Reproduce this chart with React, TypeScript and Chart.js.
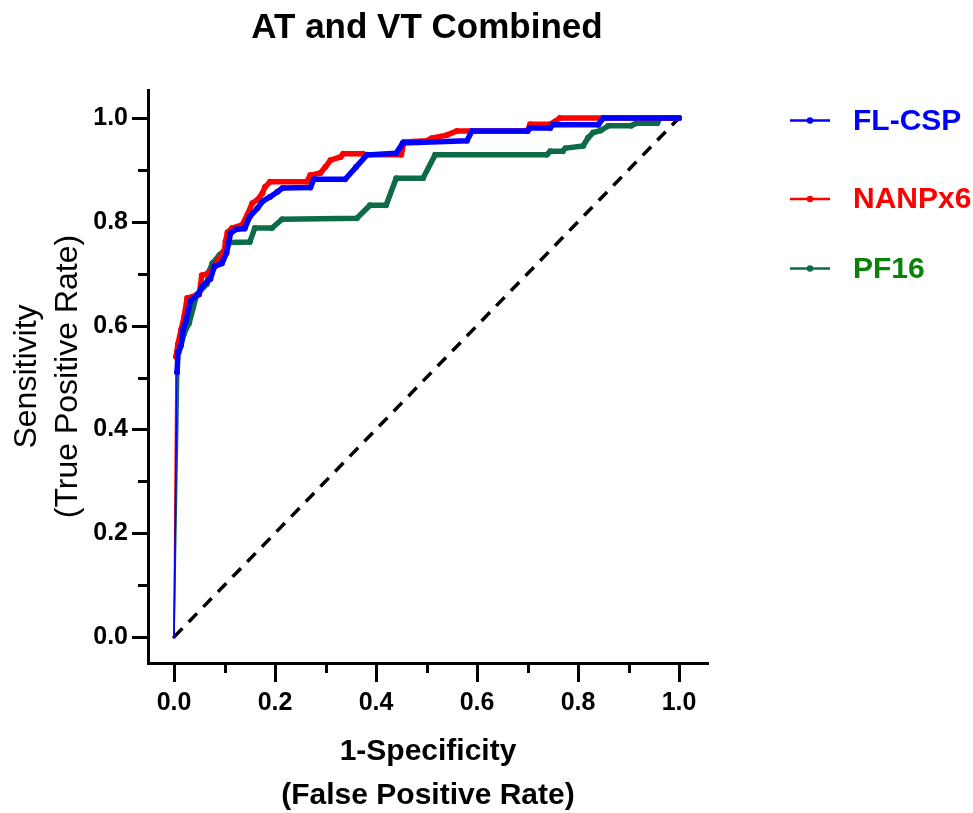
import React, { useEffect, useRef } from "react";
import { Chart, registerables } from "chart.js";

Chart.register(...registerables);

const chartTitle = "AT and VT Combined";
const seriesNames = ["FL-CSP", "NANPx6", "PF16"];

const flcspFpr = [0, 0.006, 0.008, 0.014, 0.018, 0.024, 0.033, 0.048, 0.056, 0.072, 0.08, 0.095, 0.104, 0.112, 0.122, 0.14, 0.15, 0.165, 0.176, 0.19, 0.205, 0.215, 0.27, 0.277, 0.339, 0.36, 0.382, 0.44, 0.453, 0.58, 0.59, 0.7, 0.705, 0.745, 0.75, 0.84, 0.85, 1.0];
const flcspTpr = [0, 0.51, 0.548, 0.562, 0.592, 0.61, 0.648, 0.66, 0.676, 0.69, 0.714, 0.72, 0.74, 0.778, 0.785, 0.787, 0.81, 0.826, 0.84, 0.848, 0.858, 0.865, 0.866, 0.882, 0.882, 0.905, 0.929, 0.932, 0.952, 0.956, 0.975, 0.975, 0.981, 0.981, 0.987, 0.987, 1.0, 1.0];

const nanpFpr = [0, 0.004, 0.008, 0.014, 0.02, 0.026, 0.05, 0.055, 0.066, 0.078, 0.09, 0.1, 0.102, 0.106, 0.115, 0.135, 0.145, 0.155, 0.165, 0.175, 0.18, 0.19, 0.263, 0.27, 0.29, 0.3, 0.31, 0.33, 0.335, 0.374, 0.376, 0.45, 0.455, 0.5, 0.51, 0.54, 0.56, 0.7, 0.705, 0.745, 0.764, 1.0];
const nanpTpr = [0, 0.54, 0.565, 0.592, 0.617, 0.653, 0.66, 0.697, 0.7, 0.71, 0.73, 0.745, 0.762, 0.78, 0.788, 0.794, 0.813, 0.836, 0.842, 0.855, 0.867, 0.877, 0.877, 0.89, 0.894, 0.906, 0.919, 0.925, 0.931, 0.931, 0.929, 0.929, 0.954, 0.956, 0.961, 0.967, 0.975, 0.975, 0.988, 0.988, 1.0, 1.0];

const pf16Fpr = [0, 0.01, 0.02, 0.03, 0.038, 0.045, 0.065, 0.07, 0.076, 0.09, 0.1, 0.11, 0.15, 0.16, 0.194, 0.214, 0.362, 0.388, 0.42, 0.44, 0.493, 0.517, 0.738, 0.745, 0.77, 0.775, 0.81, 0.82, 0.83, 0.845, 0.86, 0.905, 0.915, 0.957, 0.962, 1.0];
const pf16Tpr = [0, 0.55, 0.585, 0.605, 0.635, 0.66, 0.68, 0.705, 0.72, 0.736, 0.745, 0.76, 0.761, 0.788, 0.788, 0.805, 0.807, 0.832, 0.832, 0.884, 0.884, 0.929, 0.929, 0.936, 0.936, 0.942, 0.946, 0.962, 0.972, 0.976, 0.985, 0.985, 0.99, 0.99, 1.0, 1.0];

const refFpr = [0, 1];
const refTpr = [0, 1];

const xTickValues = [0, 0.1, 0.2, 0.3, 0.4, 0.5, 0.6, 0.7, 0.8, 0.9, 1.0];
const xTickLabels = ["0.0", "", "0.2", "", "0.4", "", "0.6", "", "0.8", "", "1.0"];
const yTickValues = [0, 0.1, 0.2, 0.3, 0.4, 0.5, 0.6, 0.7, 0.8, 0.9, 1.0];
const yTickLabels = ["0.0", "", "0.2", "", "0.4", "", "0.6", "", "0.8", "", "1.0"];

const xAxisTitle = ["1-Specificity", "(False Positive Rate)"];
const yAxisTitle = ["Sensitivity", "(True Positive Rate)"];

const lineColors = ["#0000FF", "#FF0000", "#0E6B47"];
const textColors = ["#0000FF", "#FF0000", "#0A820A"];

const FONT = "'Liberation Sans', Arial, Helvetica, sans-serif";

const toPoints = (xs: number[], ys: number[]) => xs.map((x, i) => ({ x, y: ys[i] }));

const decorPlugin = {
  id: "decor",
  afterDraw(chart: any) {
    const ctx = chart.ctx;
    const xs = chart.scales.x;
    const ys = chart.scales.y;
    const area = chart.chartArea;
    ctx.save();
    ctx.strokeStyle = "#000";
    ctx.lineWidth = 3;
    ctx.lineCap = "butt";
    xTickValues.forEach((v, i) => {
      const px = Math.round(xs.getPixelForValue(v)) + 0.5;
      const len = xTickLabels[i] ? 19 : 10;
      ctx.beginPath();
      ctx.moveTo(px, area.bottom);
      ctx.lineTo(px, area.bottom + len);
      ctx.stroke();
    });
    yTickValues.forEach((v, i) => {
      const py = Math.round(ys.getPixelForValue(v)) + 0.5;
      const len = yTickLabels[i] ? 16 : 10;
      ctx.beginPath();
      ctx.moveTo(area.left, py);
      ctx.lineTo(area.left - len, py);
      ctx.stroke();
    });

    // title
    ctx.fillStyle = "#000";
    ctx.font = `bold 35px ${FONT}`;
    ctx.textAlign = "center";
    ctx.textBaseline = "middle";
    ctx.fillText(chartTitle, (area.left + area.right) / 2 - 1, 28);

    // legend
    const legendY = [120.5, 199, 268.5];
    seriesNames.forEach((name, i) => {
      const y = legendY[i];
      ctx.strokeStyle = lineColors[i];
      ctx.lineWidth = 2.5;
      ctx.beginPath();
      ctx.moveTo(790, y);
      ctx.lineTo(830, y);
      ctx.stroke();
      ctx.fillStyle = lineColors[i];
      ctx.beginPath();
      ctx.arc(810, y, 3.2, 0, Math.PI * 2);
      ctx.fill();
      ctx.fillStyle = textColors[i];
      ctx.font = `bold 30px ${FONT}`;
      ctx.textAlign = "left";
      ctx.textBaseline = "middle";
      ctx.fillText(name, 853, y + 1);
    });
    ctx.restore();
  },
};

const seriesDataset = (label: string, xs: number[], ys: number[], color: string) => ({
  label,
  data: toPoints(xs, ys),
  showLine: true,
  borderColor: color,
  backgroundColor: color,
  borderWidth: 5.5,
  borderJoinStyle: "round",
  borderCapStyle: "round",
  pointRadius: (c: any) => (c.dataIndex === 0 ? 1.5 : 3),
  pointBorderWidth: 0,
  pointBackgroundColor: color,
  segment: {
    borderWidth: (c: any) => (c.p0DataIndex === 0 ? 1.6 : 5.5),
  },
  tension: 0,
});

export default function App() {
  const ref = useRef<HTMLCanvasElement>(null);
  useEffect(() => {
    if (!ref.current) return;
    const chart = new Chart(ref.current, {
      type: "scatter",
      data: {
        datasets: [
          seriesDataset(seriesNames[0], flcspFpr, flcspTpr, lineColors[0]),
          seriesDataset(seriesNames[1], nanpFpr, nanpTpr, lineColors[1]),
          seriesDataset(seriesNames[2], pf16Fpr, pf16Tpr, lineColors[2]),
          {
            label: "Reference",
            data: toPoints(refFpr, refTpr),
            showLine: true,
            borderColor: "#000",
            borderWidth: 3.5,
            borderDash: [12, 9],
            pointRadius: 0,
          },
        ] as any,
      },
      options: {
        responsive: false,
        devicePixelRatio: 1,
        animation: false,
        layout: { padding: { left: 0, right: 265, top: 90, bottom: 0 } },
        plugins: {
          legend: { display: false },
          title: { display: false },
          tooltip: { enabled: false },
        },
        scales: {
          x: {
            type: "linear",
            min: -0.0515,
            max: 1.0574,
            afterBuildTicks: (s: any) => {
              s.ticks = xTickValues.map((v) => ({ value: v }));
            },
            afterFit: (s: any) => {
              s.height = 150;
            },
            ticks: {
              autoSkip: false,
              maxRotation: 0,
              minRotation: 0,
              padding: 25,
              color: "#000",
              font: { family: FONT, size: 25, weight: "bold" },
              callback: (_v: any, i: number) => xTickLabels[i],
            },
            grid: { display: false, drawTicks: false },
            border: { display: true, color: "#000", width: 3 },
            title: {
              display: true,
              text: xAxisTitle,
              color: "#000",
              font: { family: FONT, size: 30, weight: "bold", lineHeight: 44 / 30 },
              padding: { top: 0, bottom: -4.5 },
            },
          },
          y: {
            type: "linear",
            min: -0.0501,
            max: 1.054,
            afterBuildTicks: (s: any) => {
              s.ticks = yTickValues.map((v) => ({ value: v }));
            },
            afterFit: (s: any) => {
              s.width = 148;
            },
            ticks: {
              autoSkip: false,
              padding: 20,
              color: "#000",
              font: { family: FONT, size: 25, weight: "bold" },
              callback: (_v: any, i: number) => yTickLabels[i],
            },
            grid: { display: false, drawTicks: false },
            border: { display: true, color: "#000", width: 3 },
            title: {
              display: true,
              text: yAxisTitle,
              color: "#000",
              font: { family: FONT, size: 32, weight: "normal", lineHeight: 41.5 / 32 },
              padding: { top: 6, bottom: 0 },
            },
          },
        },
      } as any,
      plugins: [decorPlugin],
    });
    return () => chart.destroy();
  }, []);
  return (
    <div style={{ position: "fixed", left: 0, top: 0, width: 973, height: 813, background: "#fff" }}>
      <canvas ref={ref} width={973} height={813} style={{ display: "block", width: 973, height: 813 }} />
    </div>
  );
}
